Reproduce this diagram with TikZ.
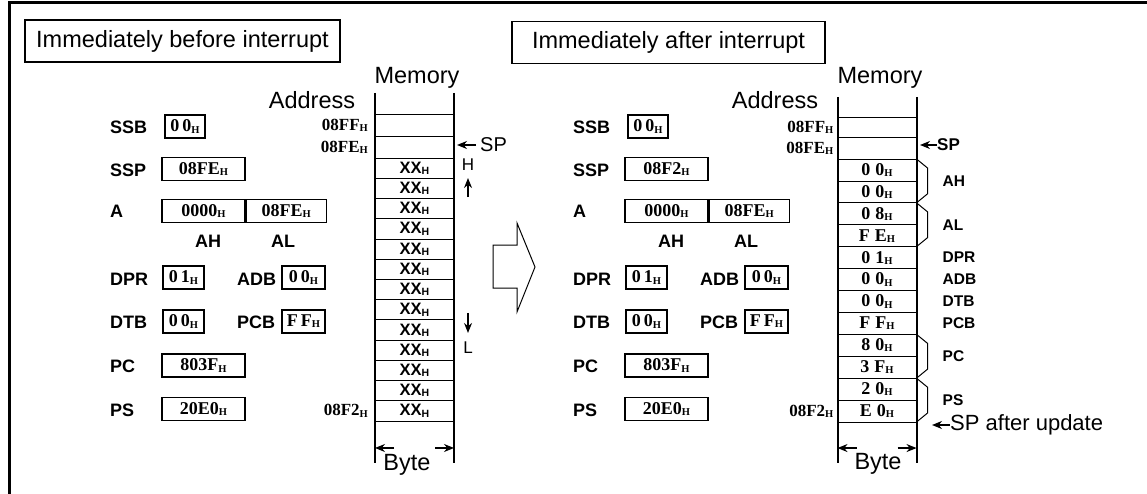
\documentclass[tikz,border=0pt]{standalone}
\usepackage{fontspec}
\setmainfont{Liberation Sans}
\newfontfamily\tms{Liberation Serif}
\usetikzlibrary{arrows.meta,calc}
\newcommand\hx[1]{#1\raisebox{-1.2pt}{\fontsize{10.5}{10}\selectfont H}}

\begin{document}
\begin{tikzpicture}[x=1pt,y=-1pt,>={Stealth[length=10pt,width=8pt]},
 ttl/.style={draw,line width=1.6pt,minimum width=#1,minimum height=42pt,inner xsep=4pt,font=\fontsize{23.5}{26}\selectfont},
 big/.style={inner sep=0pt,font=\fontsize{23.5}{26}\selectfont},
 lab/.style={anchor=west,inner sep=0pt,font=\bfseries\fontsize{18}{20}\selectfont},
 reg/.style={draw,line width=1.3pt,minimum width=#1,minimum height=23pt,inner sep=0pt,font=\tms\bfseries\fontsize{18}{18}\selectfont},
 adr/.style={anchor=east,inner sep=0pt,font=\tms\bfseries\fontsize{17}{17}\selectfont},
 cell/.style={draw,line width=0.8pt,minimum width=79pt,minimum height=#1,inner sep=0pt,outer sep=0pt,font=\tms\bfseries\fontsize{18}{18}\selectfont},
 note/.style={anchor=west,inner sep=0pt,font=\bfseries\fontsize{15.5}{17}\selectfont},
 col/.style={line width=2pt}]
\useasboundingbox (0,0) rectangle (1147,494);
\draw[line width=3pt] (1147,3) -- (9,3) -- (9,494);
\node[ttl=315pt] (tbef) at (182.5,41) {Immediately before interrupt};
\node[ttl=313pt] (taft) at (668.5,42.5) {Immediately after interrupt\hspace{16pt}};
% registers, the same on both sides
\foreach \s/\dx/\ssp in {l/0/08FE,r/463/08F2}{
 \begin{scope}[xshift=\dx pt]
 \node[big] (\s-adr) at (312,100) {Address};
 \node[big] (\s-mem) at (417,78) {Memory};
 \node[lab] (\s-ssbl) at (110,127) {SSB};
 \node[reg=40pt] (\s-ssb) at (185,126.5) {\hx{0\,0}};
 \node[lab] (\s-sspl) at (110,170) {SSP};
 \node[reg=83pt] (\s-ssp) at (203.5,169) {\hx{\ssp}};
 \node[lab] (\s-al) at (110,211) {A};
 \node[reg=83pt] (\s-ah) at (203.5,211) {\hx{0000}};
 \node[reg=80pt,anchor=west] (\s-alo) at (\s-ah.east) {\hx{08FE}};
 \node[lab,anchor=center] (\s-aht) at (208,241) {AH};
 \node[lab,anchor=center] (\s-alt) at (283,241) {AL};
 \node[lab] (\s-dprl) at (110,279) {DPR};
 \node[reg=41pt] (\s-dpr) at (183.5,277.5) {\hx{0\,1}};
 \node[lab] (\s-adbl) at (237,279) {ADB};
 \node[reg=43pt] (\s-adb) at (303.5,277.5) {\hx{0\,0}};
 \node[lab] (\s-dtbl) at (110,322) {DTB};
 \node[reg=41pt] (\s-dtb) at (183.5,321.5) {\hx{0\,0}};
 \node[lab] (\s-pcbl) at (237,322) {PCB};
 \node[reg=43pt] (\s-pcb) at (303.5,321.5) {\hx{F\,F}};
 \node[lab] (\s-pcl) at (110,366) {PC};
 \node[reg=83pt] (\s-pc) at (203.5,365.5) {\hx{803F}};
 \node[lab] (\s-psl) at (110,410) {PS};
 \node[reg=83pt] (\s-ps) at (203.5,409) {\hx{20E0}};
 \end{scope}
}
% memory before
\node[cell=22pt] (lm1) at (414.5,125) {};
\node[cell=22pt] (lm2) at (414.5,147) {};
\foreach \i in {1,...,13}
 \node[cell=20.23pt,font=\bfseries\fontsize{16.5}{16}\selectfont] (lx\i) at (414.5,{158+(\i-0.5)*20.23}) {\hx{XX}};
\draw[col] ($(lm1.north west)+(0,-21)$) -- ($(lx13.south west)+(0,42)$);
\draw[col] ($(lm1.north east)+(0,-21)$) -- ($(lx13.south east)+(0,42)$);
\node[adr] at ([xshift=-7pt]lm1.west) {\hx{08FF}};
\node[adr] at ([xshift=-7pt]lm2.west) {\hx{08FE}};
\node[adr] at ([xshift=-7pt]lx13.west) {\hx{08F2}};
\node[anchor=west,inner sep=0pt,font=\fontsize{20}{20}\selectfont] (lsp) at (480,145) {SP};
\draw[->,line width=1.2pt] ([xshift=-4pt]lsp.west) -- ([xshift=-23pt]lsp.west);
\node[inner sep=0pt,font=\fontsize{17}{18}\selectfont] (lh) at (468,165) {H};
\draw[->,line width=1.2pt] ([yshift=-26pt]lh.south) -- ([yshift=-7pt]lh.south);
\node[inner sep=0pt,font=\fontsize{17}{18}\selectfont] (ll) at (468,348) {L};
\draw[->,line width=1.2pt] ([yshift=29pt]ll.north) -- ([yshift=9pt]ll.north);
\node[big] (lbyte) at (407,465) {Byte};
\coordinate (lb1) at ($(lx13.south west)+(0,27)$);
\coordinate (lb2) at ($(lx13.south east)+(0,27)$);
\draw[->,line width=1.2pt] ($(lb1)+(19,0)$) -- (lb1);
\draw[->,line width=1.2pt] ($(lb2)+(-19,0)$) -- (lb2);
% big arrow
\draw[line width=1pt] (493,245) -- (517,245) -- (517,223) -- (535,267) -- (517,312) -- (517,288) -- (493,288) -- cycle;
% memory after
\node[cell=20pt] (rm1) at (877,127) {};
\node[cell=22pt] (rm2) at (877,148) {};
\foreach \v [count=\i] in {{0\;0},{0\;0},{0\;8},{F\;E},{0\;1},{0\;0},{0\;0},{F\;F},{8\;0},{3\;F},{2\;0},{E\;0}}
 \node[cell=21.92pt] (rc\i) at (877,{159+(\i-0.5)*21.92}) {\hx{\v}};
\draw[col] ($(rm1.north west)+(0,-20)$) -- ($(rc12.south west)+(0,41)$);
\draw[col] ($(rm1.north east)+(0,-20)$) -- ($(rc12.south east)+(0,41)$);
\node[adr] at ([xshift=-4pt]rm1.west) {\hx{08FF}};
\node[adr] at ([xshift=-4pt]rm2.west) {\hx{08FE}};
\node[adr] at ([xshift=-4pt]rc12.west) {\hx{08F2}};
\node[anchor=west,inner sep=0pt,font=\bfseries\fontsize{17}{18}\selectfont] (rsp) at (937,145) {SP};
\draw[->,line width=1.2pt] (rsp.west) -- ++(-17,0);
\foreach \a/\b/\t in {1/2/AH,3/4/AL,9/10/PC,11/12/PS}{
 \draw[line width=1pt] (rc\a.north east) -- ++(11,9) -- ($(rc\b.south east)+(11,-9)$) -- (rc\b.south east);
 \node[note] at ($(rc\a.south east)+(26,0)$) {\t};
}
\foreach \i/\t in {5/DPR,6/ADB,7/DTB,8/PCB}
 \node[note] at ($(rc\i.east)+(26,0)$) {\t};
\node[anchor=west,inner sep=0pt,font=\fontsize{22}{24}\selectfont] (spu) at (950,425) {SP after update};
\draw[->,line width=1.2pt] (spu.west) -- ++(-18,0);
\node[big] (rbyte) at (878,464) {Byte};
\coordinate (rb1) at ($(rc12.south west)+(0,26)$);
\coordinate (rb2) at ($(rc12.south east)+(0,26)$);
\draw[->,line width=1.2pt] ($(rb1)+(19,0)$) -- (rb1);
\draw[->,line width=1.2pt] ($(rb2)+(-19,0)$) -- (rb2);
\end{tikzpicture}
\end{document}
